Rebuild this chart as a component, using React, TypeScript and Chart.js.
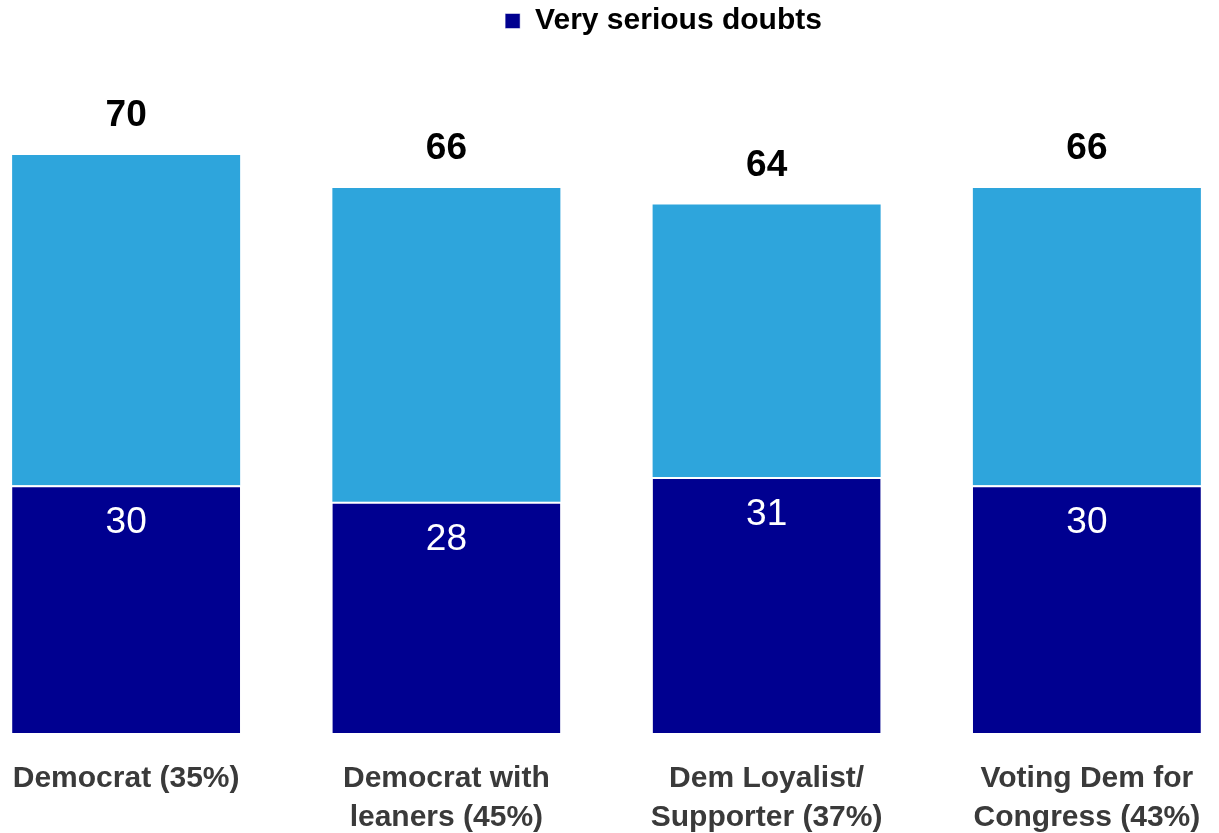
import React, { useEffect, useRef } from "react";
import { Chart, registerables } from "chart.js";

Chart.register(...registerables);

const categories: string[][] = [
  ["Democrat (35%)"],
  ["Democrat with", "leaners (45%)"],
  ["Dem Loyalist/", "Supporter (37%)"],
  ["Voting Dem for", "Congress (43%)"],
];
const verySerious: number[] = [30, 28, 31, 30];
const totals: number[] = [70, 66, 64, 66];
const somewhatSerious: number[] = totals.map((t, i) => t - verySerious[i]);

const NAVY = "#000090";
const LIGHT = "#2EA5DC";
const FONT = "'Liberation Sans', Arial, sans-serif";

const labelPlugin = {
  id: "valueLabels",
  afterDatasetsDraw(chart: any) {
    const ctx = chart.ctx;
    const navyMeta = chart.getDatasetMeta(0);
    const lightMeta = chart.getDatasetMeta(1);
    ctx.save();
    ctx.textAlign = "center";
    ctx.textBaseline = "middle";
    navyMeta.data.forEach((bar: any, i: number) => {
      ctx.fillStyle = "#ffffff";
      ctx.font = `normal 37px ${FONT}`;
      ctx.fillText(String(verySerious[i]), bar.x, bar.y + 38);
    });
    lightMeta.data.forEach((bar: any, i: number) => {
      ctx.fillStyle = "#000000";
      ctx.font = `bold 37px ${FONT}`;
      ctx.fillText(String(totals[i]), bar.x, bar.y - 39);
    });
    ctx.restore();
  },
};

export default function App() {
  const canvasRef = useRef<HTMLCanvasElement | null>(null);

  useEffect(() => {
    if (!canvasRef.current) return;
    const chart = new Chart(canvasRef.current, {
      type: "bar",
      data: {
        labels: categories,
        datasets: [
          {
            label: "Very serious doubts",
            data: verySerious,
            backgroundColor: NAVY,
            borderColor: "#ffffff",
            borderWidth: { top: 2, left: 0, right: 0, bottom: 0 },
            borderSkipped: false,
            barPercentage: 0.712,
            categoryPercentage: 1,
          },
          {
            label: "Somewhat serious doubts",
            data: somewhatSerious,
            backgroundColor: LIGHT,
            borderWidth: 0,
            barPercentage: 0.712,
            categoryPercentage: 1,
          },
        ],
      },
      options: {
        animation: false,
        responsive: true,
        maintainAspectRatio: false,
        layout: { padding: 0 },
        plugins: {
          legend: {
            display: true,
            position: "top",
            labels: {
              filter: (item: any) => item.datasetIndex === 0,
              boxWidth: 15,
              boxHeight: 15,
              color: "#000000",
              padding: 6,
              font: { family: FONT, size: 30, weight: "bold" },
            },
          },
          tooltip: { enabled: false },
        },
        scales: {
          x: {
            stacked: true,
            grid: { display: false, drawTicks: false },
            border: { display: false },
            ticks: {
              color: "#3a3a3a",
              padding: 26,
              maxRotation: 0,
              autoSkip: false,
              font: { family: FONT, size: 30, weight: "bold", lineHeight: 1.3 },
            },
            afterFit: (scale: any) => {
              scale.height = 100;
            },
          },
          y: {
            stacked: true,
            display: true,
            position: "right",
            min: 0,
            max: 83.2,
            grid: { display: false, drawTicks: false },
            border: { display: false },
            ticks: { display: false },
            afterFit: (scale: any) => {
              scale.width = 114;
            },
          },
        },
      },
      plugins: [labelPlugin],
    });
    return () => chart.destroy();
  }, []);

  return (
    <div
      style={{
        position: "fixed",
        left: 0,
        top: 0,
        width: 1219,
        height: 833,
        overflow: "hidden",
        background: "#ffffff",
      }}
    >
      <div style={{ position: "absolute", left: -34, top: 0, width: 1395, height: 833 }}>
        <canvas ref={canvasRef} />
      </div>
    </div>
  );
}
